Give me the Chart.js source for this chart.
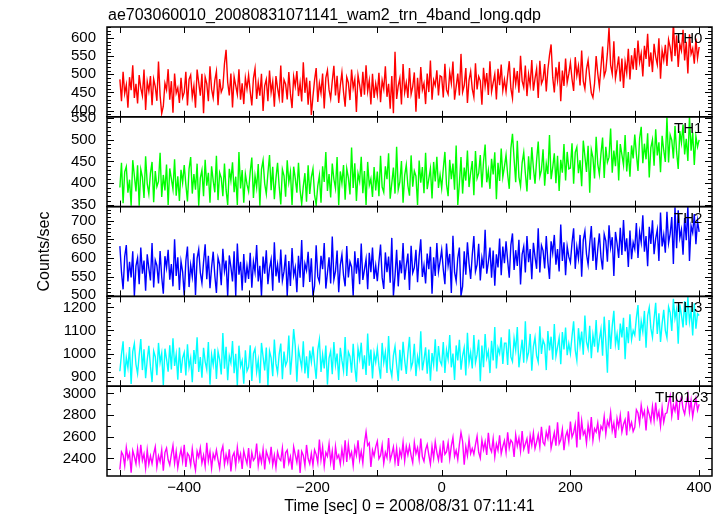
<!DOCTYPE html>
<html>
<head>
<meta charset="utf-8">
<script src="https://cdn.jsdelivr.net/npm/chart.js@4.4.1/dist/chart.umd.min.js"></script>
<style>
  html, body { margin: 0; padding: 0; background: #fff; }
  #lc { display: block; }
</style>
</head>
<body>
<canvas id="lc" width="724" height="516"></canvas>
<script>
'use strict';

// light curve bins: first bin time and bin spacing (sec)
const T_START = -500;
const T_STEP = 2.5;

// one line = 50 s of bins
const th0 = [
    486, 426, 507, 447, 471, 408, 492, 456, 525, 435, 474, 420, 498, 462, 441, 513, 402, 480, 453, 495,
    415, 487, 466, 427, 535, 442, 392, 412, 475, 457, 514, 430, 481, 394, 502, 448, 463, 421, 490, 436,
    450, 507, 414, 486, 498, 438, 468, 408, 513, 477, 441, 501, 393, 492, 474, 426, 522, 459, 435, 483,
    508, 415, 487, 451, 463, 529, 567, 478, 442, 502, 409, 493, 469, 445, 514, 430, 475, 418, 490, 460,
    498, 453, 414, 489, 516, 432, 477, 441, 501, 399, 468, 486, 426, 510, 450, 480, 411, 495, 462, 435,
    524, 422, 485, 473, 431, 506, 446, 407, 494, 467, 509, 440, 476, 425, 533, 449, 491, 416, 482, 388,
    439, 484, 517, 424, 475, 448, 502, 406, 490, 511, 457, 433, 481, 523, 442, 496, 421, 469, 505, 451,
    411, 492, 477, 429, 513, 462, 486, 396, 498, 471, 438, 507, 444, 525, 453, 483, 417, 501, 435, 474,
    444, 504, 423, 483, 459, 522, 438, 474, 405, 495, 393, 562, 432, 468, 489, 417, 528, 450, 477, 435,
    517, 445, 466, 505, 397, 490, 433, 520, 457, 475, 418, 502, 451, 538, 430, 484, 469, 511, 442, 496,
    493, 436, 529, 457, 445, 505, 475, 535, 430, 466, 502, 442, 556, 451, 469, 517, 421, 484, 508, 460,
    437, 530, 458, 494, 482, 416, 518, 467, 503, 443, 536, 452, 476, 500, 431, 515, 470, 527, 455, 485,
    452, 497, 536, 461, 434, 518, 473, 509, 449, 551, 482, 464, 524, 440, 500, 470, 539, 455, 488, 515,
    435, 537, 474, 486, 528, 453, 513, 552, 582, 492, 450, 519, 483, 534, 426, 510, 468, 543, 477, 501,
    532, 487, 454, 547, 496, 523, 469, 565, 481, 460, 514, 538, 490, 448, 436, 475, 550, 502, 466, 520,
    576, 495, 510, 558, 628, 525, 501, 591, 489, 516, 549, 480, 543, 462, 534, 504, 570, 486, 552, 513,
    572, 512, 593, 533, 557, 494, 578, 542, 611, 521, 560, 506, 584, 548, 527, 599, 488, 566, 539, 581,
    523, 595, 574, 535, 643, 550, 607, 520, 583, 565, 622, 538, 589, 502, 610, 556, 571, 529, 598, 544,
    575
];

const th1 = [
    390, 447, 354, 426, 438, 378, 408, 348, 453, 417, 381, 441, 348, 432, 414, 366, 462, 399, 375, 423,
    449, 356, 428, 392, 404, 470, 368, 419, 383, 443, 350, 434, 410, 386, 455, 371, 416, 359, 431, 401,
    442, 397, 358, 433, 460, 376, 421, 385, 445, 348, 412, 430, 370, 454, 394, 424, 355, 439, 406, 379,
    463, 361, 424, 412, 370, 445, 385, 350, 433, 406, 448, 379, 415, 350, 472, 388, 430, 355, 421, 397,
    381, 426, 459, 366, 417, 390, 444, 348, 432, 453, 399, 375, 423, 465, 384, 438, 363, 411, 447, 393,
    351, 432, 417, 369, 453, 402, 426, 350, 438, 411, 378, 447, 384, 352, 393, 423, 357, 441, 375, 414,
    433, 373, 350, 394, 418, 355, 439, 403, 472, 382, 421, 367, 445, 409, 388, 460, 349, 427, 400, 442,
    362, 434, 413, 374, 482, 389, 446, 359, 422, 404, 461, 377, 428, 350, 449, 395, 410, 368, 437, 383,
    427, 370, 463, 391, 379, 439, 409, 469, 364, 400, 436, 376, 484, 385, 403, 451, 355, 418, 442, 394,
    371, 464, 392, 428, 416, 350, 452, 401, 437, 377, 470, 386, 410, 434, 365, 449, 404, 461, 389, 419,
    388, 433, 472, 397, 370, 454, 409, 445, 385, 487, 350, 400, 460, 376, 436, 406, 475, 391, 424, 451,
    372, 474, 411, 423, 465, 390, 450, 489, 402, 429, 387, 456, 420, 471, 363, 447, 405, 480, 414, 438,
    465, 420, 387, 480, 514, 456, 402, 498, 414, 393, 447, 471, 423, 381, 462, 408, 483, 435, 399, 453,
    496, 415, 430, 478, 394, 445, 421, 511, 409, 436, 469, 400, 463, 382, 454, 424, 490, 406, 472, 433,
    435, 492, 399, 471, 483, 423, 453, 393, 498, 462, 426, 486, 378, 477, 459, 411, 507, 444, 420, 468,
    505, 412, 484, 448, 460, 526, 424, 475, 439, 499, 406, 490, 466, 442, 511, 427, 472, 415, 487, 457,
    512, 467, 428, 503, 530, 446, 491, 455, 515, 413, 482, 500, 440, 524, 464, 494, 425, 509, 476, 449,
    552, 448, 511, 499, 457, 532, 472, 433, 520, 493, 535, 466, 502, 451, 553, 475, 517, 442, 508, 484,
    500
];

const th2 = [
    632, 562, 516, 604, 635, 537, 590, 548, 618, 498, 579, 600, 530, 628, 558, 593, 512, 610, 572, 540,
    640, 521, 594, 580, 532, 619, 549, 504, 605, 574, 622, 542, 584, 524, 650, 552, 602, 514, 591, 563,
    499, 592, 631, 522, 581, 550, 613, 501, 599, 623, 561, 533, 589, 637, 543, 606, 519, 575, 617, 553,
    506, 601, 583, 527, 625, 565, 593, 497, 607, 576, 537, 618, 498, 639, 555, 590, 513, 611, 534, 579,
    544, 614, 520, 590, 562, 635, 537, 579, 498, 604, 558, 621, 530, 572, 596, 512, 642, 551, 582, 534,
    623, 539, 564, 609, 498, 592, 525, 627, 553, 575, 508, 606, 547, 648, 522, 585, 567, 617, 536, 599,
    498, 525, 634, 550, 536, 606, 570, 640, 518, 560, 602, 532, 658, 542, 564, 620, 508, 581, 609, 553,
    524, 632, 548, 590, 576, 499, 618, 558, 600, 530, 639, 541, 569, 597, 516, 614, 562, 628, 544, 580,
    538, 590, 636, 548, 517, 615, 562, 604, 534, 654, 499, 552, 622, 524, 594, 559, 640, 542, 580, 612,
    514, 633, 560, 574, 622, 535, 605, 650, 549, 580, 532, 612, 570, 630, 504, 602, 552, 640, 563, 591,
    622, 569, 530, 639, 580, 611, 506, 660, 562, 538, 600, 628, 499, 524, 618, 555, 642, 586, 544, 608,
    659, 564, 582, 638, 540, 600, 572, 676, 558, 589, 628, 547, 620, 526, 610, 575, 652, 554, 631, 586,
    645, 593, 547, 635, 666, 568, 621, 579, 649, 529, 610, 631, 561, 659, 589, 624, 543, 641, 603, 571,
    680, 561, 634, 620, 572, 659, 589, 544, 645, 614, 662, 582, 624, 564, 690, 592, 642, 554, 631, 603,
    588, 641, 680, 571, 630, 599, 662, 550, 648, 672, 610, 582, 638, 686, 592, 655, 568, 624, 666, 602,
    569, 664, 646, 590, 688, 628, 656, 552, 670, 639, 600, 681, 608, 702, 618, 653, 576, 674, 597, 642,
    624, 694, 600, 670, 642, 715, 617, 659, 578, 684, 638, 701, 610, 652, 676, 592, 722, 631, 662, 614,
    724, 640, 665, 710, 584, 736, 626, 728, 654, 676, 609, 707, 648, 738, 592, 686, 668, 718, 637, 700,
    670
];

const th3 = [
    923, 998, 1053, 898, 983, 938, 1028, 868, 1008, 1043, 953, 913, 993, 1063, 928, 1018, 893, 973, 1033, 943,
    876, 1011, 986, 906, 1046, 961, 1001, 862, 1021, 976, 921, 1036, 931, 1066, 946, 996, 886, 1026, 916, 981,
    1005, 905, 1040, 940, 980, 875, 1015, 955, 1070, 920, 985, 895, 1025, 965, 930, 1050, 865, 995, 950, 1020,
    889, 1009, 974, 909, 1089, 934, 1029, 884, 989, 959, 1054, 914, 999, 860, 1034, 944, 969, 869, 1014, 924,
    941, 1036, 881, 1001, 1021, 921, 971, 871, 1046, 986, 926, 1026, 860, 1011, 981, 901, 1061, 956, 916, 996,
    1043, 888, 1008, 948, 968, 1078, 908, 993, 1106, 1033, 878, 1018, 978, 938, 1053, 913, 988, 893, 1013, 963,
    1030, 955, 890, 1015, 1060, 920, 995, 935, 1035, 865, 980, 1010, 910, 1050, 950, 1000, 885, 1025, 970, 925,
    1072, 902, 1007, 987, 917, 1042, 942, 877, 1022, 977, 1047, 932, 992, 907, 1087, 947, 1017, 892, 1002, 962,
    1021, 946, 891, 1046, 961, 1006, 916, 1076, 936, 901, 991, 1031, 951, 881, 1016, 926, 1051, 971, 911, 1001,
    1072, 937, 962, 1042, 902, 987, 947, 1097, 927, 972, 1027, 912, 1017, 882, 1002, 952, 1062, 922, 1032, 967,
    950, 1050, 915, 1015, 975, 1080, 940, 1000, 885, 1035, 970, 1060, 930, 990, 1025, 905, 1090, 960, 1005, 935,
    1080, 960, 995, 1060, 880, 1035, 940, 1085, 980, 1010, 915, 1055, 970, 1115, 935, 1025, 1000, 1070, 955, 1045,
    1045, 950, 1105, 985, 965, 1065, 1015, 1115, 940, 1000, 1060, 960, 1140, 975, 1005, 1085, 925, 1030, 1070, 990,
    963, 1118, 998, 1058, 1038, 928, 1098, 1013, 1073, 973, 1128, 988, 1028, 1068, 953, 1093, 1018, 1113, 993, 1043,
    1000, 1075, 1140, 1015, 970, 1110, 1035, 1095, 995, 1165, 1050, 1020, 1120, 980, 1080, 1030, 1145, 1005, 1060, 1105,
    990, 1160, 1055, 917, 1145, 1020, 1120, 1185, 1040, 1085, 1015, 1130, 1070, 1155, 975, 1115, 1045, 1170, 1060, 1100,
    1080, 1155, 1210, 1055, 1140, 1095, 1185, 1025, 1165, 1200, 1110, 1070, 1150, 1220, 1085, 1175, 1050, 1130, 1190, 1100,
    1068, 1203, 1178, 1098, 1238, 1153, 1193, 1043, 1213, 1168, 1113, 1228, 1123, 1246, 1138, 1188, 1078, 1218, 1108, 1173,
    1165
];

const th0123 = [
    2297, 2459, 2429, 2333, 2501, 2399, 2447, 2267, 2471, 2417, 2351, 2489, 2363, 2525, 2381, 2441, 2309, 2477, 2345, 2423,
    2351, 2441, 2507, 2321, 2423, 2369, 2477, 2285, 2453, 2495, 2387, 2339, 2435, 2519, 2357, 2465, 2315, 2411, 2483, 2375,
    2525, 2321, 2447, 2423, 2339, 2489, 2369, 2291, 2465, 2411, 2495, 2357, 2429, 2327, 2543, 2375, 2459, 2309, 2441, 2393,
    2477, 2387, 2309, 2459, 2513, 2345, 2435, 2363, 2483, 2279, 2417, 2453, 2333, 2501, 2381, 2441, 2303, 2471, 2405, 2351,
    2495, 2309, 2453, 2381, 2405, 2537, 2333, 2435, 2363, 2483, 2297, 2465, 2417, 2369, 2507, 2339, 2429, 2315, 2459, 2399,
    2380, 2494, 2308, 2452, 2476, 2356, 2416, 2296, 2506, 2434, 2362, 2482, 2266, 2464, 2428, 2332, 2524, 2398, 2350, 2446,
    2335, 2479, 2437, 2359, 2575, 2389, 2503, 2329, 2455, 2419, 2533, 2365, 2467, 2293, 2509, 2401, 2431, 2347, 2485, 2377,
    2566, 2368, 2530, 2410, 2458, 2332, 2500, 2428, 2566, 2386, 2464, 2356, 2540, 2644, 2520, 2542, 2320, 2476, 2422, 2506,
    2558, 2396, 2426, 2522, 2354, 2456, 2408, 2588, 2384, 2438, 2504, 2366, 2492, 2330, 2474, 2414, 2546, 2378, 2510, 2432,
    2516, 2426, 2360, 2546, 2444, 2498, 2390, 2582, 2414, 2372, 2480, 2528, 2432, 2348, 2510, 2402, 2552, 2456, 2384, 2492,
    2360, 2564, 2438, 2462, 2546, 2396, 2516, 2594, 2420, 2474, 2390, 2528, 2640, 2558, 2342, 2510, 2426, 2576, 2444, 2492,
    2438, 2528, 2606, 2456, 2402, 2570, 2480, 2552, 2432, 2636, 2498, 2462, 2582, 2414, 2534, 2474, 2612, 2444, 2510, 2564,
    2455, 2641, 2497, 2569, 2545, 2413, 2617, 2515, 2587, 2467, 2653, 2485, 2533, 2581, 2443, 2611, 2521, 2635, 2491, 2551,
    2620, 2506, 2692, 2548, 2524, 2644, 2584, 2704, 2494, 2566, 2638, 2518, 2734, 2536, 2572, 2668, 2476, 2602, 2650, 2554,
    2740, 2596, 2638, 2716, 2500, 2830, 2572, 2746, 2620, 2656, 2542, 2710, 2608, 2782, 2566, 2674, 2644, 2728, 2590, 2698,
    2667, 2787, 2625, 2745, 2697, 2823, 2655, 2727, 2589, 2769, 2691, 2799, 2643, 2715, 2757, 2613, 2835, 2679, 2733, 2649,
    2687, 2849, 2819, 2723, 2891, 2789, 2837, 2657, 2861, 2807, 2741, 2879, 2753, 2915, 2771, 2831, 2699, 2867, 2735, 2813,
    2821, 2911, 2977, 2791, 2893, 2839, 2947, 2755, 2923, 2965, 2857, 2809, 2905, 2989, 2827, 2935, 2785, 2881, 2953, 2845,
    2900
];

const band_names = ['TH0', 'TH1', 'TH2', 'TH3', 'TH0123'];
const band_series = [th0, th1, th2, th3, th0123];
const band_colours = ['#ff0000', '#00ff00', '#0000ff', '#00ffff', '#ff00ff'];

// y range, labelled step and minor step of each panel
const y_ranges = [[383, 630], [346, 553], [497, 738], [858, 1248], [2237, 3067]];
const y_major = [50, 50, 50, 100, 200];
const y_minor = [10, 10, 10, 20, 100];

const x_range = [-520, 420];
const x_major = 200;
const x_minor = 100;

const plot_title = 'ae703060010_20080831071141_wam2_trn_4band_long.qdp';
const x_title = 'Time [sec] 0 = 2008/08/31 07:11:41';
const y_title = 'Counts/sec';

const FONT = '"Liberation Sans", Arial, Helvetica, sans-serif';

Chart.defaults.font.family = FONT;
Chart.defaults.color = '#000';

function fmt_tick(v) {
    return v < 0 ? '\u2212' + Math.abs(v) : String(v);
}

function to_points(values) {
    return values.map((v, i) => ({x: T_START + i * T_STEP, y: v}));
}

const datasets = band_series.map((values, i) => ({
    label: band_names[i],
    data: to_points(values),
    yAxisID: 'y' + i,
    borderColor: band_colours[i],
    borderWidth: 1.4,
    pointRadius: 0,
    tension: 0,
    fill: false
}));

const scales = {
    x: {
        type: 'linear',
        position: 'bottom',
        min: x_range[0],
        max: x_range[1],
        afterFit: scale => { scale.height = 40; },
        grid: {display: false, drawTicks: false},
        border: {display: false},
        ticks: {
            stepSize: x_minor,
            includeBounds: false,
            autoSkip: false,
            maxRotation: 0,
            padding: 3,
            font: {size: 15},
            callback: v => (v % x_major === 0 ? fmt_tick(v) : '')
        },
        title: {
            display: true,
            text: x_title,
            padding: 0,
            font: {size: 16}
        }
    }
};

band_names.forEach((name, i) => {
    scales['y' + i] = {
        type: 'linear',
        position: 'left',
        stack: 'panels',
        stackWeight: 1,
        weight: band_names.length - i,
        min: y_ranges[i][0],
        max: y_ranges[i][1],
        afterFit: scale => { scale.width = 107; },
        grid: {display: false, drawTicks: false},
        border: {display: false},
        ticks: {
            stepSize: y_minor[i],
            includeBounds: false,
            autoSkip: false,
            padding: 11,
            font: {size: 15},
            callback: v => (v % y_major[i] === 0 ? String(v) : '')
        }
    };
});

const qdp_panels = {
    id: 'qdp_panels',
    beforeDatasetDraw(chart, args) {
        // keep each light curve inside its own panel
        const ys = chart.getDatasetMeta(args.index).yScale;
        const area = chart.chartArea;
        const ctx = chart.ctx;
        ctx.save();
        ctx.beginPath();
        ctx.rect(area.left, ys.top, area.right - area.left, ys.bottom - ys.top);
        ctx.clip();
    },
    afterDatasetDraw(chart) {
        chart.ctx.restore();
    },
    afterDraw(chart) {
        const ctx = chart.ctx;
        const area = chart.chartArea;
        const xs = chart.scales.x;

        ctx.save();
        ctx.strokeStyle = '#000';
        ctx.lineWidth = 1;
        ctx.beginPath();
        band_names.forEach((name, i) => {
            const ys = chart.scales['y' + i];
            const step = y_minor[i];
            for (let v = Math.ceil(y_ranges[i][0] / step) * step; v <= y_ranges[i][1]; v += step) {
                const py = Math.round(ys.getPixelForValue(v)) + 0.5;
                const len = v % y_major[i] === 0 ? 7 : 4;
                ctx.moveTo(area.left, py);
                ctx.lineTo(area.left + len, py);
                ctx.moveTo(area.right, py);
                ctx.lineTo(area.right - len, py);
            }
            for (let t = Math.ceil(x_range[0] / x_minor) * x_minor; t <= x_range[1]; t += x_minor) {
                const px = Math.round(xs.getPixelForValue(t)) + 0.5;
                ctx.moveTo(px, ys.top);
                ctx.lineTo(px, ys.top + 6);
                ctx.moveTo(px, ys.bottom);
                ctx.lineTo(px, ys.bottom - 6);
            }
        });
        ctx.stroke();

        ctx.lineWidth = 1.5;
        band_names.forEach((name, i) => {
            const ys = chart.scales['y' + i];
            ctx.strokeRect(area.left, ys.top, area.right - area.left, ys.bottom - ys.top);
        });

        // panel names
        ctx.fillStyle = '#000';
        ctx.font = '15px ' + FONT;
        ctx.textBaseline = 'alphabetic';
        ctx.textAlign = 'left';
        band_names.forEach((name, i) => {
            const ys = chart.scales['y' + i];
            const lx = name.length > 3 ? area.right - 57 : area.right - 38;
            ctx.fillText(name, lx, ys.top + 16);
        });

        // file name on top
        ctx.font = '16px ' + FONT;
        ctx.fillText(plot_title, area.left + 1, 20);

        // y axis title
        ctx.translate(45, (area.top + area.bottom) / 2);
        ctx.rotate(-Math.PI / 2);
        ctx.textAlign = 'center';
        ctx.textBaseline = 'middle';
        ctx.fillText(y_title, 0, 0);
        ctx.restore();
    }
};

new Chart(document.getElementById('lc'), {
    type: 'line',
    data: {datasets: datasets},
    plugins: [qdp_panels],
    options: {
        responsive: false,
        devicePixelRatio: 1,
        animation: false,
        events: [],
        layout: {padding: {top: 27, right: 12, left: 0, bottom: 0}},
        plugins: {
            legend: {display: false},
            title: {display: false},
            tooltip: {enabled: false}
        },
        scales: scales
    }
});
</script>
</body>
</html>
